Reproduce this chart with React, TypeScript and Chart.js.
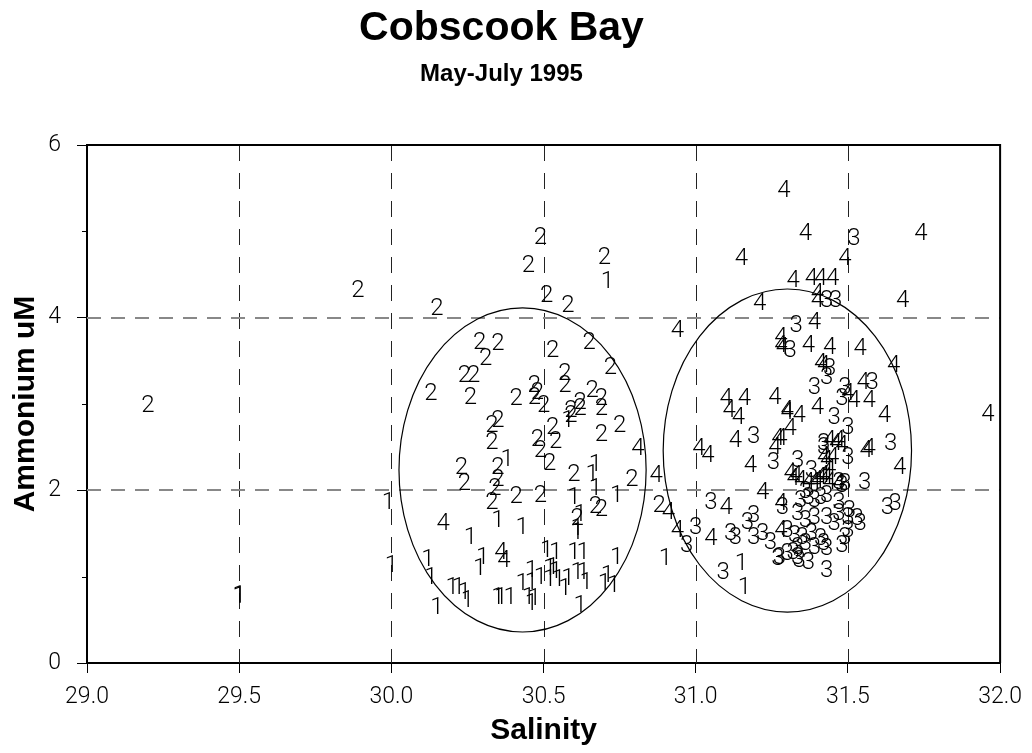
import React, { useEffect, useRef } from "react";
import { Chart, registerables } from "chart.js";

Chart.register(...registerables);

const TITLE = "Cobscook Bay";
const SUBTITLE = "May-July 1995";
const X_TITLE = "Salinity";
const Y_TITLE = "Ammonium uM";

const X_MIN = 29;
const X_MAX = 32;
const X_STEP = 0.5;
const Y_MIN = 0;
const Y_MAX = 6;
const Y_STEP = 2;
const X_GRID = [29.5, 30, 30.5, 31, 31.5];
const Y_GRID = [2, 4];
const Y_MINOR = [1, 3, 5];

const GROUP_LABELS = ["1", "2", "3", "4"];

const group1: [number, number][] = [
  [29.5, 0.78], [29.5, 0.79], [29.99, 1.86], [30.0, 1.14], [30.71, 4.42], [30.38, 2.36],
  [30.35, 1.66], [30.43, 1.57], [30.26, 1.46], [30.3, 1.23], [30.29, 1.1], [30.12, 1.2],
  [30.13, 1.0], [30.2, 0.88], [30.22, 0.88], [30.24, 0.82], [30.25, 0.73], [30.35, 0.77],
  [30.36, 0.77], [30.39, 0.77], [30.43, 0.93], [30.46, 0.94], [30.46, 0.69], [30.15, 0.65],
  [30.67, 2.3], [30.66, 2.19], [30.67, 2.03], [30.6, 1.92], [30.74, 1.95], [30.62, 1.73],
  [30.61, 1.56], [30.61, 1.52], [30.51, 1.31], [30.54, 1.29], [30.6, 1.28], [30.63, 1.28],
  [30.74, 1.23], [30.52, 1.1], [30.53, 1.11], [30.54, 1.06], [30.52, 0.97], [30.55, 0.97],
  [30.49, 1.0], [30.46, 1.08], [30.58, 0.99], [30.57, 0.87], [30.61, 1.05], [30.63, 1.05],
  [30.64, 0.94], [30.71, 1.02], [30.7, 0.93], [30.73, 0.9], [30.62, 0.67], [30.47, 0.75],
  [30.45, 0.76], [30.58, 2.82], [30.9, 1.22], [31.15, 1.16], [31.16, 0.88],
];

const group2: [number, number][] = [
  [29.2, 2.99], [29.89, 4.32], [30.15, 4.11], [30.49, 4.93], [30.45, 4.61], [30.7, 4.7],
  [30.51, 4.26], [30.58, 4.15], [30.29, 3.72], [30.35, 3.71], [30.31, 3.53], [30.24, 3.34],
  [30.27, 3.34], [30.13, 3.13], [30.26, 3.08], [30.41, 3.07], [30.47, 3.22], [30.47, 3.08],
  [30.65, 3.72], [30.53, 3.63], [30.72, 3.43], [30.57, 3.36], [30.57, 3.22], [30.48, 3.14],
  [30.66, 3.16], [30.69, 3.07], [30.62, 3.02], [30.59, 2.93], [30.5, 2.99], [30.62, 2.95],
  [30.69, 2.95], [30.59, 2.87], [30.53, 2.73], [30.54, 2.57], [30.48, 2.59], [30.49, 2.47],
  [30.52, 2.32], [30.69, 2.65], [30.75, 2.76], [30.6, 2.19], [30.79, 2.13], [30.49, 1.95],
  [30.67, 1.82], [30.69, 1.78], [30.61, 1.68], [30.33, 2.76], [30.35, 2.81], [30.33, 2.56],
  [30.23, 2.27], [30.24, 2.09], [30.35, 2.27], [30.35, 2.13], [30.34, 2.03], [30.33, 1.87],
  [30.41, 1.93], [30.88, 1.83],
];

const group3: [number, number][] = [
  [31.52, 4.92], [31.43, 4.2], [31.46, 4.2], [31.33, 3.92], [31.31, 3.63], [31.44, 3.42],
  [31.43, 3.31], [31.39, 3.2], [31.49, 3.2], [31.58, 3.25], [31.48, 3.07], [31.455, 2.85],
  [31.5, 2.73], [31.42, 2.5], [31.5, 2.39], [31.64, 2.55], [31.335, 2.35], [31.48, 2.06],
  [31.555, 2.1], [31.63, 1.81], [31.655, 1.85], [31.5, 1.69], [31.54, 1.62], [31.47, 1.74],
  [31.49, 1.46], [31.43, 1.08], [31.275, 1.23], [31.32, 1.29], [31.34, 1.19], [31.19, 2.63],
  [31.255, 2.33], [31.05, 1.86], [31.285, 1.81], [31.0, 1.58], [30.97, 1.37], [31.115, 1.51],
  [31.13, 1.46], [31.17, 1.63], [31.19, 1.71], [31.19, 1.46], [31.22, 1.51], [31.245, 1.4],
  [31.27, 1.22], [31.09, 1.05], [31.42, 2.55], [31.47, 2.1], [31.49, 2.08], [31.345, 1.89],
  [31.37, 1.92], [31.39, 1.89], [31.41, 1.92], [31.43, 1.95], [31.47, 1.86], [31.505, 1.77],
  [31.53, 1.68], [31.335, 1.74], [31.36, 1.66], [31.39, 1.69], [31.43, 1.69], [31.455, 1.62],
  [31.5, 1.54], [31.3, 1.54], [31.325, 1.48], [31.35, 1.46], [31.38, 1.51], [31.41, 1.45],
  [31.335, 1.34], [31.36, 1.39], [31.39, 1.34], [31.42, 1.39], [31.3, 1.27], [31.335, 1.23],
  [31.37, 1.17], [31.43, 1.33], [31.48, 1.37], [31.36, 1.99], [31.38, 2.24],
];

const group4: [number, number][] = [
  [31.29, 5.48], [31.36, 4.98], [31.74, 4.98], [31.49, 4.69], [31.15, 4.69], [31.32, 4.44],
  [31.38, 4.46], [31.41, 4.46], [31.45, 4.46], [31.4, 4.28], [31.4, 4.2], [31.68, 4.2],
  [31.21, 4.17], [30.94, 3.86], [31.39, 3.95], [31.28, 3.78], [31.28, 3.68], [31.285, 3.66],
  [31.37, 3.68], [31.44, 3.66], [31.54, 3.65], [31.42, 3.45], [31.41, 3.47], [31.65, 3.45],
  [31.55, 3.25], [31.52, 3.05], [31.57, 3.05], [31.5, 3.13], [31.4, 2.97], [31.3, 2.93],
  [31.34, 2.87], [31.62, 2.87], [31.1, 3.07], [31.16, 3.07], [31.11, 2.93], [31.14, 2.85],
  [31.26, 3.08], [31.3, 2.91], [31.31, 2.72], [31.13, 2.58], [31.26, 2.5], [31.28, 2.61],
  [31.18, 2.29], [31.31, 2.2], [31.01, 2.49], [31.04, 2.41], [30.87, 2.18], [30.91, 1.75],
  [31.1, 1.81], [31.22, 1.98], [31.28, 1.85], [30.94, 1.54], [31.05, 1.45], [31.28, 1.54],
  [30.81, 2.49], [31.44, 2.58], [31.47, 2.58], [31.57, 2.49], [31.67, 2.27], [31.42, 2.39],
  [31.43, 2.35], [31.45, 2.39], [31.33, 2.18], [31.37, 2.1], [31.39, 2.1], [31.41, 2.15],
  [31.43, 2.15], [31.44, 2.26], [31.46, 2.55], [31.48, 2.52], [31.56, 2.47], [31.32, 2.14],
  [31.345, 2.12], [31.4, 2.12], [31.42, 2.18], [31.44, 2.1], [31.47, 2.08], [31.96, 2.88],
  [31.27, 2.61], [30.17, 1.62], [30.36, 1.29], [30.37, 1.19],
];

const GROUPS = [group1, group2, group3, group4];

// ellipses: centre (salinity, ammonium) and semi-axes in data units
const ELLIPSE_CENTERS: [number, number][] = [[30.431, 2.236], [31.301, 2.461]];
const ELLIPSE_RADII: [number, number][] = [[0.406, 1.877], [0.408, 1.871]];

const MARK_FONT = "300 24px Roboto, 'Liberation Sans', sans-serif";
const BOLD_FAMILY = "'Liberation Sans', Arial, sans-serif";
const LIGHT_FAMILY = "Roboto, 'Liberation Sans', sans-serif";

const overlayPlugin = {
  id: "overlay",
  beforeDatasetsDraw(chart: any) {
    const { ctx, chartArea: a, scales } = chart;
    const xs = scales.x;
    const ys = scales.y;
    ctx.save();
    // vertical dashed grid
    ctx.lineWidth = 1;
    ctx.strokeStyle = "#222";
    ctx.setLineDash([16, 12]);
    X_GRID.forEach((v) => {
      const px = Math.round(xs.getPixelForValue(v)) + 0.5;
      ctx.beginPath();
      ctx.moveTo(px, a.top);
      ctx.lineTo(px, a.bottom);
      ctx.stroke();
    });
    // horizontal dashed grid
    ctx.lineWidth = 2;
    ctx.strokeStyle = "#888";
    ctx.setLineDash([14, 10]);
    Y_GRID.forEach((v) => {
      const py = Math.round(ys.getPixelForValue(v));
      ctx.beginPath();
      ctx.moveTo(a.left, py);
      ctx.lineTo(a.right, py);
      ctx.stroke();
    });
    ctx.setLineDash([]);
    // frame top and right
    ctx.strokeStyle = "#000";
    ctx.lineWidth = 2;
    ctx.beginPath();
    ctx.moveTo(a.left, a.top);
    ctx.lineTo(a.right, a.top);
    ctx.lineTo(a.right, a.bottom);
    ctx.stroke();
    // minor ticks on y axis
    ctx.lineWidth = 1;
    Y_MINOR.forEach((v) => {
      const py = Math.round(ys.getPixelForValue(v)) + 0.5;
      ctx.beginPath();
      ctx.moveTo(a.left - 5, py);
      ctx.lineTo(a.left, py);
      ctx.stroke();
    });
    // ellipses
    ctx.lineWidth = 1.2;
    ELLIPSE_CENTERS.forEach((c, i) => {
      const cx = xs.getPixelForValue(c[0]);
      const cy = ys.getPixelForValue(c[1]);
      const rx = Math.abs(xs.getPixelForValue(c[0] + ELLIPSE_RADII[i][0]) - cx);
      const ry = Math.abs(ys.getPixelForValue(c[1] + ELLIPSE_RADII[i][1]) - cy);
      ctx.beginPath();
      ctx.ellipse(cx, cy, rx, ry, 0, 0, Math.PI * 2);
      ctx.stroke();
    });
    ctx.restore();
  },
  afterDatasetsDraw(chart: any) {
    const { ctx } = chart;
    ctx.save();
    ctx.font = MARK_FONT;
    ctx.fillStyle = "#000";
    ctx.textAlign = "center";
    ctx.textBaseline = "middle";
    chart.data.datasets.forEach((ds: any, i: number) => {
      const meta = chart.getDatasetMeta(i);
      meta.data.forEach((el: any) => {
        ctx.fillText(ds.label, el.x, el.y + 1);
      });
    });
    ctx.restore();
  },
};

export default function App() {
  const canvasRef = useRef<HTMLCanvasElement | null>(null);

  useEffect(() => {
    if (!canvasRef.current) return;
    const chart = new Chart(canvasRef.current, {
      type: "scatter",
      data: {
        datasets: GROUPS.map((g, i) => ({
          label: GROUP_LABELS[i],
          data: g.map(([x, y]) => ({ x, y })),
          pointRadius: 0,
          pointHoverRadius: 0,
          showLine: false,
        })),
      },
      options: {
        responsive: false,
        animation: false,
        events: [],
        layout: { padding: { left: 0, right: 29, top: 0, bottom: 0 } },
        plugins: {
          legend: { display: false },
          tooltip: { enabled: false },
          title: {
            display: true,
            text: TITLE,
            color: "#000",
            font: { family: BOLD_FAMILY, size: 41, weight: "bold", lineHeight: 1.2 },
            padding: { top: 4.4, bottom: 0 },
          },
          subtitle: {
            display: true,
            text: SUBTITLE,
            color: "#000",
            font: { family: BOLD_FAMILY, size: 24, weight: "bold", lineHeight: 1.2 },
            padding: { top: 6, bottom: 56.6 },
          },
        },
        scales: {
          x: {
            type: "linear",
            min: X_MIN,
            max: X_MAX,
            afterFit: (scale: any) => {
              scale.height = 90;
            },
            ticks: {
              stepSize: X_STEP,
              autoSkip: false,
              maxRotation: 0,
              padding: 10,
              color: "#000",
              font: { family: LIGHT_FAMILY, size: 23, weight: "300" },
              callback: (v: any) => Number(v).toFixed(1),
            },
            grid: {
              display: true,
              drawOnChartArea: false,
              drawTicks: true,
              tickLength: 10,
              tickColor: "#000",
              tickWidth: 1,
            },
            border: { display: true, color: "#000", width: 2 },
            title: {
              display: true,
              text: X_TITLE,
              color: "#000",
              font: { family: BOLD_FAMILY, size: 30, weight: "bold", lineHeight: 1.2 },
              padding: { top: 0, bottom: 4 },
            },
          },
          y: {
            type: "linear",
            min: Y_MIN,
            max: Y_MAX,
            afterFit: (scale: any) => {
              scale.width = 87;
            },
            ticks: {
              stepSize: Y_STEP,
              padding: 16,
              color: "#000",
              font: { family: LIGHT_FAMILY, size: 23, weight: "300" },
            },
            grid: {
              display: true,
              drawOnChartArea: false,
              drawTicks: true,
              tickLength: 10,
              tickColor: "#000",
              tickWidth: 1,
            },
            border: { display: true, color: "#000", width: 2 },
            title: {
              display: true,
              text: Y_TITLE,
              color: "#000",
              font: { family: BOLD_FAMILY, size: 30, weight: "bold", lineHeight: 1.2 },
              padding: { top: 8, bottom: 0 },
            },
          },
        },
      },
      plugins: [overlayPlugin],
    });
    return () => chart.destroy();
  }, []);

  return (
    <div style={{ position: "fixed", left: 0, top: 0, width: 1032, height: 753, background: "#fff" }}>
      <canvas ref={canvasRef} width={1032} height={753} style={{ display: "block" }} />
    </div>
  );
}
